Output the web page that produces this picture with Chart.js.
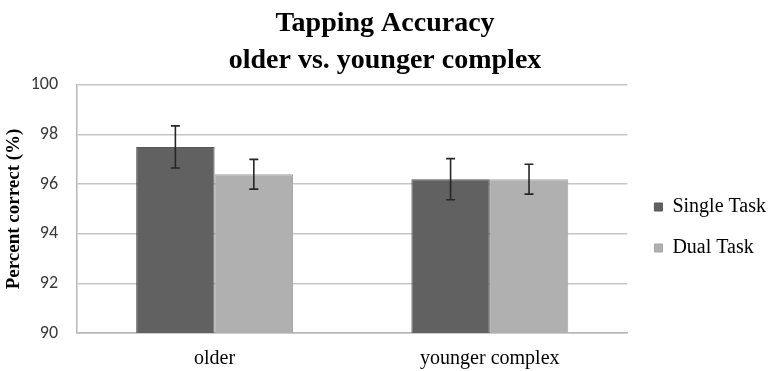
<!DOCTYPE html>
<html>
<head>
<meta charset="utf-8">
<script src="https://cdn.jsdelivr.net/npm/chart.js@4/dist/chart.umd.min.js"></script>
<style>
  html, body { margin: 0; padding: 0; background: #fff; }
  #wrap { width: 772px; height: 371px; }
</style>
</head>
<body>
<div id="wrap"><canvas id="c" width="772" height="371"></canvas></div>
<script>
// data
var categories = ["older", "younger complex"];
var singleTask = [97.5, 96.2];
var singleErr = [0.85, 0.83];
var dualTask = [96.4, 96.2];
var dualErr = [0.6, 0.6];
var yTicks = [90, 92, 94, 96, 98, 100];

var serif = "'Liberation Serif', 'Times New Roman', serif";
var sans = "Carlito, 'Liberation Sans', Arial, sans-serif";

// draw error bars from the bar elements and the y scale
var errorBars = {
    id: "errorBars",
    afterDatasetsDraw: function(chart) {
        var ctx = chart.ctx;
        var y = chart.scales.y;
        chart.data.datasets.forEach(function(ds, i) {
            var meta = chart.getDatasetMeta(i);
            meta.data.forEach(function(bar, j) {
                var v = ds.data[j], e = ds.errors[j];
                var top = y.getPixelForValue(v + e);
                var bot = y.getPixelForValue(v - e);
                ctx.save();
                ctx.strokeStyle = "#262626";
                ctx.lineWidth = 1.6;
                ctx.beginPath();
                ctx.moveTo(bar.x, top); ctx.lineTo(bar.x, bot);
                ctx.moveTo(bar.x - 4.5, top); ctx.lineTo(bar.x + 4.5, top);
                ctx.moveTo(bar.x - 4.5, bot); ctx.lineTo(bar.x + 4.5, bot);
                ctx.stroke();
                ctx.restore();
            });
        });
    }
};

// nudge legend a bit (excel puts it lower and further right)
var legendShift = {
    id: "legendShift",
    afterLayout: function(chart) {
        var lg = chart.legend;
        lg.left += 6; lg.right += 6;
        lg.top += 42; lg.bottom += 42;
    }
};

new Chart(document.getElementById("c"), {
    type: "bar",
    data: {
        labels: categories,
        datasets: [
            { label: "Single Task", data: singleTask, errors: singleErr,
              backgroundColor: "#616161", borderColor: "#575757", borderWidth: 1,
              categoryPercentage: 0.57, barPercentage: 1.0 },
            { label: "Dual Task", data: dualTask, errors: dualErr,
              backgroundColor: "#b0b0b0", borderColor: "#a6a6a6", borderWidth: 1,
              categoryPercentage: 0.57, barPercentage: 1.0 }
        ]
    },
    options: {
        responsive: false,
        animation: false,
        layout: { padding: { top: 0, right: 2, bottom: 0, left: 0 } },
        plugins: {
            title: {
                display: true,
                text: ["Tapping Accuracy", "older vs. younger complex"],
                font: { family: serif, size: 28, weight: "bold", lineHeight: 1.32 },
                color: "#000",
                padding: { top: 5, bottom: 6 }
            },
            legend: {
                position: "right",
                align: "center",
                labels: {
                    boxWidth: 8, boxHeight: 8,
                    padding: 21,
                    color: "#000",
                    font: { family: serif, size: 20 }
                }
            },
            tooltip: { enabled: false }
        },
        scales: {
            x: {
                grid: { display: false, drawTicks: false },
                border: { color: "#b8b8b8", width: 1.5 },
                ticks: { color: "#000", font: { family: serif, size: 20 }, padding: 14 },
                afterFit: function(scale) { scale.height = 38; }
            },
            y: {
                min: 90, max: 100,
                afterBuildTicks: function(scale) {
                    scale.ticks = yTicks.map(function(v) { return { value: v }; });
                },
                grid: { color: "#c6c6c6", lineWidth: 1.5, drawTicks: false },
                border: { color: "#b8b8b8", width: 1.5 },
                ticks: { color: "#3a3a3a", font: { family: sans, size: 18 }, padding: 19 },
                title: {
                    display: true,
                    text: "Percent correct (%)",
                    color: "#000",
                    font: { family: serif, size: 19, weight: "bold" },
                    padding: { top: 3, bottom: 0 }
                },
                afterFit: function(scale) { scale.width = 77; }
            }
        }
    },
    plugins: [errorBars, legendShift]
});
</script>
</body>
</html>
